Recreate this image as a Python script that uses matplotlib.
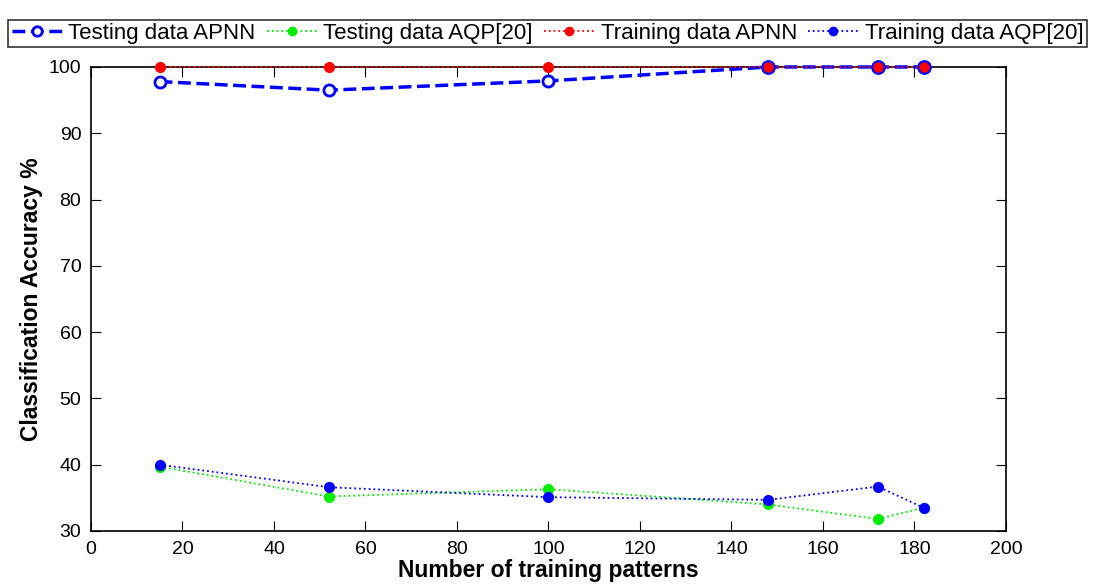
import matplotlib
matplotlib.use("Agg")
import matplotlib.pyplot as plt

plt.rcParams['font.family'] = ['Liberation Sans', 'DejaVu Sans']

x = [15, 52, 100, 148, 172, 182]
test_apnn = [97.8, 96.5, 97.9, 100.0, 100.0, 100.0]
test_aqp = [39.7, 35.2, 36.3, 34.0, 31.8, 33.5]
train_apnn = [100.0, 100.0, 100.0, 100.0, 100.0, 100.0]
train_aqp = [40.0, 36.6, 35.1, 34.7, 36.7, 33.5]

xticks = list(range(0, 201, 20))
yticks = list(range(30, 101, 10))

fig = plt.figure(figsize=(10.95, 5.86), dpi=100)
ax = fig.add_axes([0.0831, 0.0939, 0.8356, 0.7918])

l1, = ax.plot(x, test_apnn, '--', color='blue', lw=2.5, marker='o', ms=8,
              mfc='white', mec='blue', mew=2, label='Testing data APNN', zorder=3,
              clip_on=False)
l2, = ax.plot(x, test_aqp, ':', color='#00ee00', lw=1.3, marker='o', ms=7,
              mfc='#00ee00', mec='#00ee00', label='Testing data AQP[20]', zorder=2,
              clip_on=False)
l3, = ax.plot(x, train_apnn, ':', color='red', lw=1.3, marker='o', ms=7,
              mfc='red', mec='red', label='Training data APNN', zorder=4,
              clip_on=False)
l4, = ax.plot(x, train_aqp, ':', color='blue', lw=1.3, marker='o', ms=7,
              mfc='blue', mec='blue', label='Training data AQP[20]', zorder=3,
              clip_on=False)
ax.plot(x[3:], train_apnn[3:], 'o', ms=9, mfc='red', mec='blue', mew=1.5, zorder=5,
        clip_on=False)

ax.set_xlim(0, 200)
ax.set_ylim(30, 100)
ax.set_xticks(xticks)
ax.set_yticks(yticks)
ax.tick_params(direction='in', top=True, right=True, labelsize=14, length=7, pad=7)
for s in ax.spines.values():
    s.set_linewidth(1.2)
ax.set_xlabel('Number of training patterns', fontsize=16.5, fontweight='bold', labelpad=1)
ax.set_ylabel('Classification Accuracy %', fontsize=16.5, fontweight='bold', labelpad=4)

leg = fig.legend(handles=[l1, l2, l3, l4], loc='upper center', ncol=4,
                 bbox_to_anchor=(0.5, 0.97), fontsize=16, frameon=True,
                 fancybox=False, edgecolor='black', handlelength=2.25,
                 handletextpad=0.3, columnspacing=0.5, borderpad=0.15,
                 borderaxespad=0.1, markerscale=0.85)
leg.get_frame().set_linewidth(1.2)

fig.savefig('out.png', dpi=100)
